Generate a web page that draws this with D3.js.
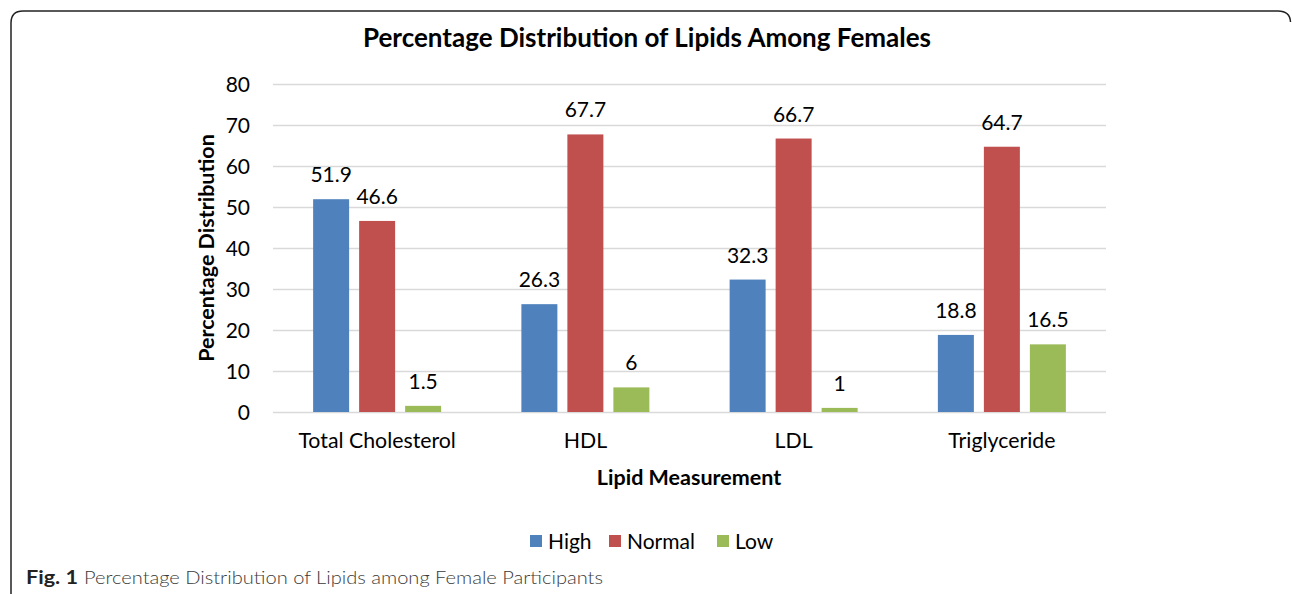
<!DOCTYPE html>
<html>
<head>
<meta charset="utf-8">
<script src="https://cdn.jsdelivr.net/npm/d3@7"></script>
<style>
  html, body { margin: 0; padding: 0; background: #fff; }
  svg { display: block; }
  text { font-family: Lato, "Open Sans", sans-serif; }
</style>
</head>
<body>
<svg id="chart" width="1292" height="594"></svg>
<script>
const categories = ["Total Cholesterol", "HDL", "LDL", "Triglyceride"];
const seriesNames = ["High", "Normal", "Low"];
const highValues = [51.9, 26.3, 32.3, 18.8];
const normalValues = [46.6, 67.7, 66.7, 64.7];
const lowValues = [1.5, 6, 1, 16.5];
const yTicks = [0, 10, 20, 30, 40, 50, 60, 70, 80];
const colors = ["#4f81bd", "#c0504d", "#9bbb59"];

(function () {
const seriesValues = [highValues, normalValues, lowValues];
const svg = d3.select("#chart");

// frame (top edge + left edge, rounded corners)
svg.append("path")
  .attr("d", "M11,594 L11,23 Q11,11 23,11 L1278,11 Q1290,11 1290.5,22")
  .attr("fill", "none").attr("stroke", "#222").attr("stroke-width", 1.5);

const pLeft = 273, pRight = 1106, pTop = 84, pBottom = 412;
const x = d3.scaleBand().domain(categories).range([pLeft, pRight]).paddingInner(0).paddingOuter(0);
const y = d3.scaleLinear().domain([0, 80]).range([pBottom, pTop]);
const barW = 36, gap = 10;
const groupW = seriesNames.length * barW + (seriesNames.length - 1) * gap;
const xs = d3.scaleBand().domain(seriesNames).range([0, groupW]).paddingInner(gap / (barW + gap));

// gridlines
svg.append("g").selectAll("line").data(yTicks).join("line")
  .attr("x1", pLeft).attr("x2", pRight)
  .attr("y1", d => y(d) + 0.5).attr("y2", d => y(d) + 0.5)
  .attr("stroke", "#d9d9d9").attr("stroke-width", 1.3);

// y axis labels
const yAxis = d3.axisLeft(y).tickValues(yTicks).tickSize(0).tickPadding(23);
const gy = svg.append("g").attr("transform", `translate(${pLeft},0)`).call(yAxis);
gy.select(".domain").remove();
gy.selectAll("text").attr("font-size", 21).attr("font-family", "Lato, sans-serif").attr("fill", "#000").attr("dy", "0.35em");

// x axis labels
const xAxis = d3.axisBottom(x).tickSize(0).tickPadding(21);
const gx = svg.append("g").attr("transform", `translate(0,${pBottom})`).call(xAxis);
gx.select(".domain").remove();
gx.selectAll("text").attr("font-size", 21.3).attr("font-family", "Lato, sans-serif").attr("fill", "#000");

// bars
const groups = svg.append("g").selectAll("g").data(categories).join("g")
  .attr("transform", d => `translate(${x(d) + (x.bandwidth() - groupW) / 2},0)`);
groups.each(function(cat, ci) {
  const g = d3.select(this);
  seriesNames.forEach((s, si) => {
    const v = seriesValues[si][ci];
    g.append("rect")
      .attr("x", xs(s)).attr("width", xs.bandwidth())
      .attr("y", y(v)).attr("height", y(0) - y(v))
      .attr("fill", colors[si]);
    g.append("text")
      .attr("x", xs(s) + xs.bandwidth() / 2).attr("y", y(v) - 17)
      .attr("text-anchor", "middle").attr("font-size", 21).attr("fill", "#000")
      .text(v);
  });
});

// title
svg.append("text").attr("x", 647).attr("y", 47).attr("text-anchor", "middle")
  .attr("font-size", 26).attr("font-weight", "bold").attr("fill", "#000")
  .text("Percentage Distribution of Lipids Among Females");

// axis titles
svg.append("text").attr("transform", "translate(214,248) rotate(-90)")
  .attr("text-anchor", "middle").attr("font-size", 21.5).attr("font-weight", "bold").attr("fill", "#000")
  .text("Percentage Distribution");
svg.append("text").attr("x", 689).attr("y", 485).attr("text-anchor", "middle")
  .attr("font-size", 21.5).attr("font-weight", "bold").attr("fill", "#000")
  .text("Lipid Measurement");

// legend
const legendX = [530, 609, 717];
const lg = svg.append("g").selectAll("g").data(seriesNames).join("g")
  .attr("transform", (d, i) => `translate(${legendX[i]},535)`);
lg.append("rect").attr("width", 12).attr("height", 12).attr("fill", (d, i) => colors[i]);
lg.append("text").attr("x", 18).attr("y", 13.5).attr("font-size", 21).attr("fill", "#000").text(d => d);

// caption
svg.append("text").attr("x", 26).attr("y", 584).attr("font-size", 18)
  .attr("font-weight", "bold").attr("fill", "#222")
  .attr("textLength", 52).attr("lengthAdjust", "spacingAndGlyphs").text("Fig. 1");
svg.append("text").attr("x", 84).attr("y", 584).attr("font-size", 18)
  .attr("font-weight", 300).attr("fill", "#3a3a3a")
  .attr("textLength", 519).attr("lengthAdjust", "spacingAndGlyphs")
  .text("Percentage Distribution of Lipids among Female Participants");
})();
</script>
</body>
</html>
